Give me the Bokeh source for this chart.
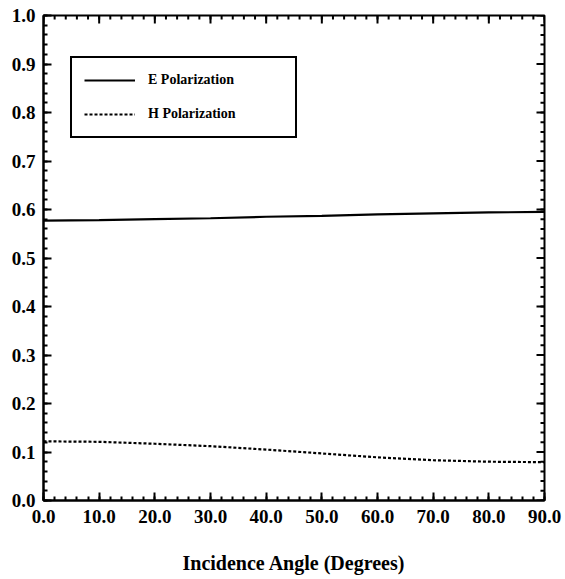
import numpy as np
from bokeh.plotting import figure
from bokeh.models import (FixedTicker, PrintfTickFormatter, Range1d,
                          Legend, LegendItem, ColumnDataSource)
from bokeh.embed import file_html
from bokeh.resources import INLINE

# ---- data ----
angle = [0, 10, 20, 30, 40, 50, 60, 70, 80, 90]
e_pol = [0.577, 0.578, 0.580, 0.582, 0.585, 0.587, 0.590, 0.592, 0.594, 0.595]
h_pol = [0.122, 0.121, 0.117, 0.112, 0.105, 0.097, 0.089, 0.083, 0.080, 0.079]
x_ticks = [0, 10, 20, 30, 40, 50, 60, 70, 80, 90]
y_ticks = [0.0, 0.1, 0.2, 0.3, 0.4, 0.5, 0.6, 0.7, 0.8, 0.9, 1.0]
x_label = "Incidence Angle (Degrees)"
labels = ["E Polarization", "H Polarization"]

FONT = "Liberation Serif"
X_MAX, Y_MAX = 90, 1.0

p = figure(width=565, height=579, output_backend="svg", toolbar_location=None,
           x_range=Range1d(0, X_MAX), y_range=Range1d(0, Y_MAX),
           min_border_left=43, min_border_right=21, min_border_top=15,
           min_border_bottom=79)
p.background_fill_color = "white"
p.border_fill_color = "white"
p.grid.visible = False
p.outline_line_color = "black"
p.outline_line_width = 2

src = ColumnDataSource(dict(x=angle, e=e_pol, h=h_pol))
r_e = p.line("x", "e", source=src, line_color="black", line_width=2.2)
r_h = p.line("x", "h", source=src, line_color="black", line_width=2.2,
             line_dash="3 2")

x_minor = list(np.arange(0, 90.01, 2.0))
y_minor = list(np.arange(0, 1.001, 0.02))
xt = FixedTicker(ticks=x_ticks, minor_ticks=x_minor)
yt = FixedTicker(ticks=y_ticks, minor_ticks=y_minor)


def style(ax):
    ax.axis_line_width = 2
    ax.axis_line_color = "black"
    ax.major_tick_in = 8
    ax.major_tick_out = 0
    ax.minor_tick_in = 4
    ax.minor_tick_out = 0
    ax.major_tick_line_width = 2
    ax.minor_tick_line_width = 2
    ax.major_tick_line_color = "black"
    ax.minor_tick_line_color = "black"
    ax.major_label_text_font = FONT
    ax.major_label_text_font_style = "bold"
    ax.major_label_text_font_size = "19px"
    ax.major_label_text_color = "black"
    ax.formatter = PrintfTickFormatter(format="%.1f")


xa = p.xaxis[0]
xa.ticker = xt
style(xa)
xa.major_label_standoff = 9
xa.axis_label = x_label
xa.axis_label_text_font = FONT
xa.axis_label_text_font_style = "bold"
xa.axis_label_text_font_size = "20px"
xa.axis_label_text_color = "black"
xa.axis_label_standoff = 26

ya = p.yaxis[0]
ya.ticker = yt
style(ya)
ya.major_label_standoff = 8

# mirrored ticks on the top and right edges (inside the frame)
p.ray(x=x_ticks, y=[Y_MAX] * len(x_ticks), length=8, length_units="screen",
      angle=-np.pi / 2, line_color="black", line_width=2)
p.ray(x=x_minor, y=[Y_MAX] * len(x_minor), length=4, length_units="screen",
      angle=-np.pi / 2, line_color="black", line_width=2)
p.ray(x=[X_MAX] * len(y_ticks), y=y_ticks, length=8, length_units="screen",
      angle=np.pi, line_color="black", line_width=2)
p.ray(x=[X_MAX] * len(y_minor), y=y_minor, length=4, length_units="screen",
      angle=np.pi, line_color="black", line_width=2)

legend = Legend(items=[LegendItem(label=labels[0], renderers=[r_e]),
                       LegendItem(label=labels[1], renderers=[r_h])],
                location=(27, 362))
legend.border_line_color = "black"
legend.border_line_alpha = 1
legend.border_line_width = 2
legend.background_fill_color = "white"
legend.background_fill_alpha = 1
legend.label_text_font = FONT
legend.label_text_font_style = "bold"
legend.label_text_font_size = "14px"
legend.label_text_color = "black"
legend.padding = 12
legend.spacing = 14
legend.glyph_width = 51
legend.glyph_height = 20
legend.label_height = 20
legend.label_standoff = 13
legend.label_width = 135
legend.margin = 0
p.add_layout(legend, "center")

open("out.html", "w").write(file_html(p, INLINE))
